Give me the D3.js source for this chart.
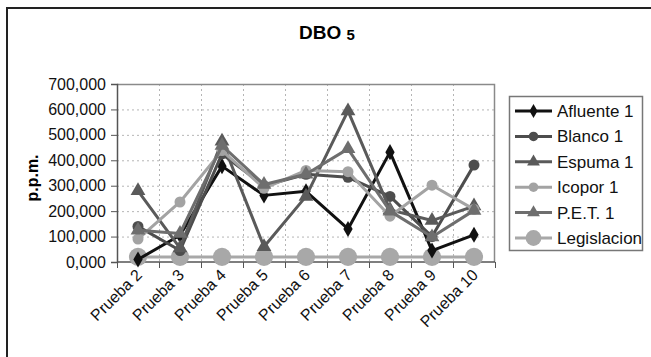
<!DOCTYPE html>
<html>
<head>
<meta charset="utf-8">
<script src="https://cdn.jsdelivr.net/npm/d3@7"></script>
<style>
  body { margin: 0; background: #fff; }
  text { font-family: "Liberation Sans", Arial, sans-serif; }
</style>
</head>
<body>
<div id="chart"></div>
<script>
// data
var categories = ["Prueba 2", "Prueba 3", "Prueba 4", "Prueba 5", "Prueba 6", "Prueba 7", "Prueba 8", "Prueba 9", "Prueba 10"];
var afluente = [10000, 105000, 377000, 262000, 278000, 130000, 432000, 45000, 107000];
var blanco = [140000, 45000, 425000, 300000, 345000, 333000, 258000, 100000, 381000];
var espuma = [280000, 55000, 475000, 60000, 258000, 594000, 205000, 163000, 220000];
var icopor = [90000, 236000, 438000, 290000, 360000, 355000, 180000, 302000, 207000];
var pet = [125000, 112000, 458000, 305000, 345000, 445000, 200000, 98000, 203000];
var legislacion = [20000, 20000, 20000, 20000, 20000, 20000, 20000, 20000, 20000];
var yTicks = [0, 100000, 200000, 300000, 400000, 500000, 600000, 700000];

var series = [
  {name: "Afluente 1", values: afluente, color: "#111111", symbol: d3.symbolDiamond, size: 75},
  {name: "Blanco 1", values: blanco, color: "#4d4d4d", symbol: d3.symbolCircle, size: 95},
  {name: "Espuma 1", values: espuma, color: "#5a5a5a", symbol: d3.symbolTriangle, size: 95},
  {name: "Icopor 1", values: icopor, color: "#a3a3a3", symbol: d3.symbolCircle, size: 95},
  {name: "P.E.T. 1", values: pet, color: "#6e6e6e", symbol: d3.symbolTriangle, size: 95},
  {name: "Legislacion", values: legislacion, color: "#a8a8a8", symbol: d3.symbolCircle, size: 260}
];

var W = 651, H = 357;
var margin = {top: 84, left: 117, right: 156, bottom: 95};
var width = W - margin.left - margin.right,
    height = H - margin.top - margin.bottom;

var svg = d3.select("#chart").append("svg")
  .attr("width", W)
  .attr("height", H);

// outer chart border (runs off the picture right/bottom)
svg.append("rect")
  .attr("x", 7).attr("y", 8)
  .attr("width", 700).attr("height", 400)
  .attr("fill", "none")
  .attr("stroke", "#222")
  .attr("stroke-width", 2);

// title
var title = svg.append("text")
  .attr("x", 327).attr("y", 39)
  .attr("text-anchor", "middle")
  .attr("font-weight", "bold")
  .attr("font-size", 19)
  .text("DBO ");
title.append("tspan")
  .attr("font-size", 15)
  .attr("dy", 1)
  .text("5");

var g = svg.append("g")
  .attr("transform", "translate(" + margin.left + "," + margin.top + ")");

var x = d3.scaleBand()
  .domain(categories)
  .range([0, width]);

var y = d3.scaleLinear()
  .domain([0, 700000])
  .range([height, 0]);

// grid lines
g.append("g")
  .selectAll("line")
  .data(yTicks.slice(1))
  .enter().append("line")
    .attr("x1", 0).attr("x2", width)
    .attr("y1", function(d) { return y(d) + 0.5; })
    .attr("y2", function(d) { return y(d) + 0.5; })
    .attr("stroke", "#b5b5b5")
    .attr("stroke-dasharray", "2,3");

g.append("g")
  .selectAll("line")
  .data(categories.slice(1))
  .enter().append("line")
    .attr("x1", function(d) { return Math.round(x(d)) + 0.5; })
    .attr("x2", function(d) { return Math.round(x(d)) + 0.5; })
    .attr("y1", 0).attr("y2", height)
    .attr("stroke", "#b5b5b5")
    .attr("stroke-dasharray", "2,3");

// plot border top/right
g.append("path")
  .attr("d", "M0,0.5H" + (width - 0.5) + "V" + height)
  .attr("fill", "none")
  .attr("stroke", "#8a8a8a")
  .attr("stroke-width", 1.5);

// y axis
var yAxis = g.append("g")
  .call(d3.axisLeft(y)
    .tickValues(yTicks)
    .tickSize(6)
    .tickPadding(5)
    .tickFormat(function(d) { return d3.format(",.0f")(d / 1000) + ",000"; }));
yAxis.select(".domain").attr("stroke", "#555").attr("stroke-width", 1.5);
yAxis.selectAll(".tick line").attr("stroke", "#555");
yAxis.selectAll("text")
  .attr("font-size", 16)
  .attr("fill", "#111")
  .text(function(d) { return d === 0 ? "0,000" : d3.format(",")(d / 1000) + ",000"; });

// x axis, ticks on category boundaries
var xAxis = g.append("g")
  .attr("transform", "translate(0," + height + ")");
xAxis.append("line")
  .attr("x1", 0).attr("x2", width)
  .attr("y1", 0).attr("y2", 0)
  .attr("stroke", "#555").attr("stroke-width", 1.5);
xAxis.selectAll(".btick")
  .data(categories.concat(["end"]))
  .enter().append("line")
    .attr("class", "btick")
    .attr("x1", function(d, i) { return Math.round(i * x.bandwidth()) + 0.5; })
    .attr("x2", function(d, i) { return Math.round(i * x.bandwidth()) + 0.5; })
    .attr("y1", 0).attr("y2", 6)
    .attr("stroke", "#555");
xAxis.selectAll(".lbl")
  .data(categories)
  .enter().append("text")
    .attr("class", "lbl")
    .attr("text-anchor", "end")
    .attr("font-size", 16)
    .attr("fill", "#111")
    .attr("transform", function(d) {
      return "translate(" + (x(d) + x.bandwidth() / 2 + 5) + ",14) rotate(-45)";
    })
    .text(function(d) { return d; });

// y axis title
svg.append("text")
  .attr("transform", "translate(38,178) rotate(-90)")
  .attr("text-anchor", "middle")
  .attr("font-weight", "bold")
  .attr("font-size", 16)
  .text("p.p.m.");

// lines
var line = d3.line()
  .x(function(d, i) { return x(categories[i]) + x.bandwidth() / 2; })
  .y(function(d) { return y(d); });

// legislacion first (drawn at back), others in order
var order = [5, 0, 1, 2, 3, 4];
order.forEach(function(k) {
  var s = series[k];
  var sg = g.append("g");
  sg.append("path")
    .datum(s.values)
    .attr("d", line)
    .attr("fill", "none")
    .attr("stroke", s.color)
    .attr("stroke-width", 3)
    .attr("stroke-linejoin", "round");
  sg.selectAll("path.mk")
    .data(s.values)
    .enter().append("path")
      .attr("class", "mk")
      .attr("d", d3.symbol().type(s.symbol).size(s.size))
      .attr("transform", function(d, i) {
        return "translate(" + (x(categories[i]) + x.bandwidth() / 2) + "," + y(d) + ")";
      })
      .attr("fill", s.color);
});

// legend
var legend = svg.append("g");
legend.append("rect")
  .attr("x", 509.5).attr("y", 96.5)
  .attr("width", 133).attr("height", 154)
  .attr("fill", "#fff")
  .attr("stroke", "#777")
  .attr("stroke-width", 1.5);

var items = legend.selectAll(".item")
  .data(series)
  .enter().append("g")
    .attr("transform", function(d, i) { return "translate(515," + (111 + i * 25.4) + ")"; });
items.append("line")
  .attr("x1", 0).attr("x2", 37)
  .attr("stroke", function(d) { return d.color; })
  .attr("stroke-width", 3);
items.append("path")
  .attr("transform", "translate(18.5,0)")
  .attr("d", function(d) { return d3.symbol().type(d.symbol).size(d.size * 0.75)(); })
  .attr("fill", function(d) { return d.color; });
items.append("text")
  .attr("x", 42)
  .attr("dy", "0.35em")
  .attr("font-size", 17)
  .attr("fill", "#111")
  .text(function(d) { return d.name; });
</script>
</body>
</html>
